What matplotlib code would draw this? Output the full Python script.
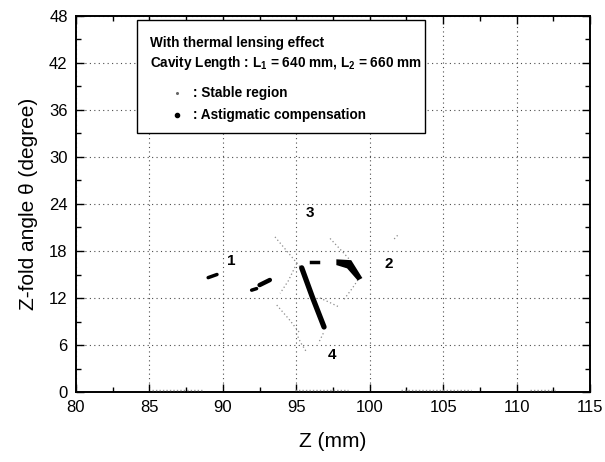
import numpy as np
import matplotlib
matplotlib.use("Agg")
import matplotlib.pyplot as plt
from matplotlib.patches import Rectangle
from matplotlib.ticker import MultipleLocator

plt.rcParams['font.family'] = ['Liberation Sans', 'DejaVu Sans']
plt.rcParams['mathtext.fontset'] = 'custom'
plt.rcParams['mathtext.rm'] = 'Liberation Sans'
plt.rcParams['mathtext.bf'] = 'Liberation Sans:bold'

# --- stable region boundaries (thin dotted curves), Z in mm, theta in degree ---
stable_1_z = [93.55, 94.4, 95.25]
stable_1_t = [19.8, 17.9, 16.0]
stable_2_z = [97.3, 98.0, 98.66]
stable_2_t = [19.6, 18.2, 16.85]
stable_3_z = [101.9, 101.6]
stable_3_t = [20.0, 19.4]
stable_4_z = [99.34, 98.8, 98.2]
stable_4_t = [14.7, 13.2, 11.7]
stable_5_z = [96.6, 97.2, 97.86]
stable_5_t = [12.0, 11.5, 10.9]
stable_6_z = [95.03, 94.46, 93.9]
stable_6_t = [16.4, 14.2, 12.6]
stable_7_z = [93.67, 94.5, 95.25]
stable_7_t = [11.1, 9.3, 7.5]
stable_8_z = [95.0, 95.3, 95.7]
stable_8_t = [7.5, 6.3, 5.1]
stable_9_z = [96.84, 96.5]
stable_9_t = [7.5, 6.2]
stable_base_z = [[85.2, 88.7], [94.9, 98.5], [102.1, 106.9], [110.9, 112.6]]
stable_base_t = 0.25

# --- astigmatic compensation (thick black marks) ---
comp_a_z = [89.0, 89.6]
comp_a_t = [14.6, 15.0]
comp_b_z = [91.96, 92.3]
comp_b_t = [13.0, 13.2]
comp_c_z = [92.5, 93.2]
comp_c_t = [13.65, 14.3]
comp_d_z = [95.37, 96.1, 96.89]
comp_d_t = [15.85, 12.1, 8.3]
comp_e_z = [95.98, 96.5]
comp_e_t = [16.56, 16.56]
comp_wedge_z = [97.8, 98.7, 99.4, 99.2, 98.5, 97.8]
comp_wedge_t = [16.8, 16.7, 14.6, 14.4, 15.9, 16.3]

region_labels = ['1', '2', '3', '4']
region_z = [90.55, 101.3, 95.95, 97.4]
region_t = [16.7, 16.4, 22.8, 4.7]

fig = plt.figure(figsize=(6.05, 4.62), dpi=100)
ax = fig.add_axes([0.1256, 0.1515, 0.8496, 0.8139])

stable = [(stable_1_z, stable_1_t), (stable_2_z, stable_2_t), (stable_3_z, stable_3_t),
          (stable_4_z, stable_4_t), (stable_5_z, stable_5_t), (stable_6_z, stable_6_t),
          (stable_7_z, stable_7_t), (stable_8_z, stable_8_t), (stable_9_z, stable_9_t)]
for zz, tt in stable:
    ax.plot(zz, tt, ls=(0, (1, 2)), color='0.55', lw=0.9, zorder=3)
for zz in stable_base_z:
    ax.plot(zz, [stable_base_t] * 2, ls=(0, (1, 1.5)), color='0.6', lw=1.0, zorder=3)

ax.plot(comp_a_z, comp_a_t, color='k', lw=2.5, solid_capstyle='round', zorder=4)
ax.plot(comp_b_z, comp_b_t, color='k', lw=2.5, solid_capstyle='round', zorder=4)
ax.plot(comp_c_z, comp_c_t, color='k', lw=3.2, solid_capstyle='round', zorder=4)
ax.plot(comp_d_z, comp_d_t, color='k', lw=3.8, solid_capstyle='round', zorder=4)
ax.plot(comp_e_z, comp_e_t, color='k', lw=2.5, zorder=4)
ax.fill(comp_wedge_z, comp_wedge_t, color='k', lw=1.5, ec='k', zorder=4)

for lab, zz, tt in zip(region_labels, region_z, region_t):
    ax.text(zz, tt, lab, fontsize=11, fontweight='bold', ha='center', va='center', zorder=5)

ax.set_xlim(80, 115)
ax.set_ylim(0, 48)
ax.xaxis.set_major_locator(MultipleLocator(5))
ax.xaxis.set_minor_locator(MultipleLocator(2.5))
ax.yaxis.set_major_locator(MultipleLocator(6))
ax.yaxis.set_minor_locator(MultipleLocator(3))
ax.tick_params(which='both', direction='in', top=True, right=True, labelsize=12, pad=6)
ax.tick_params(which='major', length=6, width=1)
ax.tick_params(which='minor', length=3.5, width=1)
ax.grid(True, which='major', ls=(0, (1, 3)), color='0.3', lw=0.8)
for sp in ax.spines.values():
    sp.set_linewidth(1.4)

ax.set_xlabel('Z (mm)', fontsize=15, labelpad=12)
ax.set_ylabel('Z-fold angle \u03b8 (degree)', fontsize=15, labelpad=8)

# annotation box
box = Rectangle((0.1187, 0.689), 0.5603, 0.300, transform=ax.transAxes,
                facecolor='white', edgecolor='k', lw=1.0, zorder=6)
ax.add_patch(box)
ax.text(0.144, 0.928, 'With thermal lensing effect', transform=ax.transAxes,
        fontsize=9.8, fontweight='bold', va='center', zorder=7)
ax.text(0.144, 0.876, r'Cavity Length : L$_\mathbf{1}$ = 640 mm, L$_\mathbf{2}$ = 660 mm',
        transform=ax.transAxes, fontsize=9.8, fontweight='bold', va='center', zorder=7)
ax.plot([0.196], [0.795], marker='o', ms=1.2, color='0.4', transform=ax.transAxes, zorder=7)
ax.text(0.228, 0.795, ': Stable region', transform=ax.transAxes,
        fontsize=9.8, fontweight='bold', va='center', zorder=7)
ax.plot([0.196], [0.737], marker='o', ms=3, color='k', transform=ax.transAxes, zorder=7)
ax.text(0.228, 0.737, ': Astigmatic compensation', transform=ax.transAxes,
        fontsize=9.8, fontweight='bold', va='center', zorder=7)

fig.savefig('out.png', dpi=100)
